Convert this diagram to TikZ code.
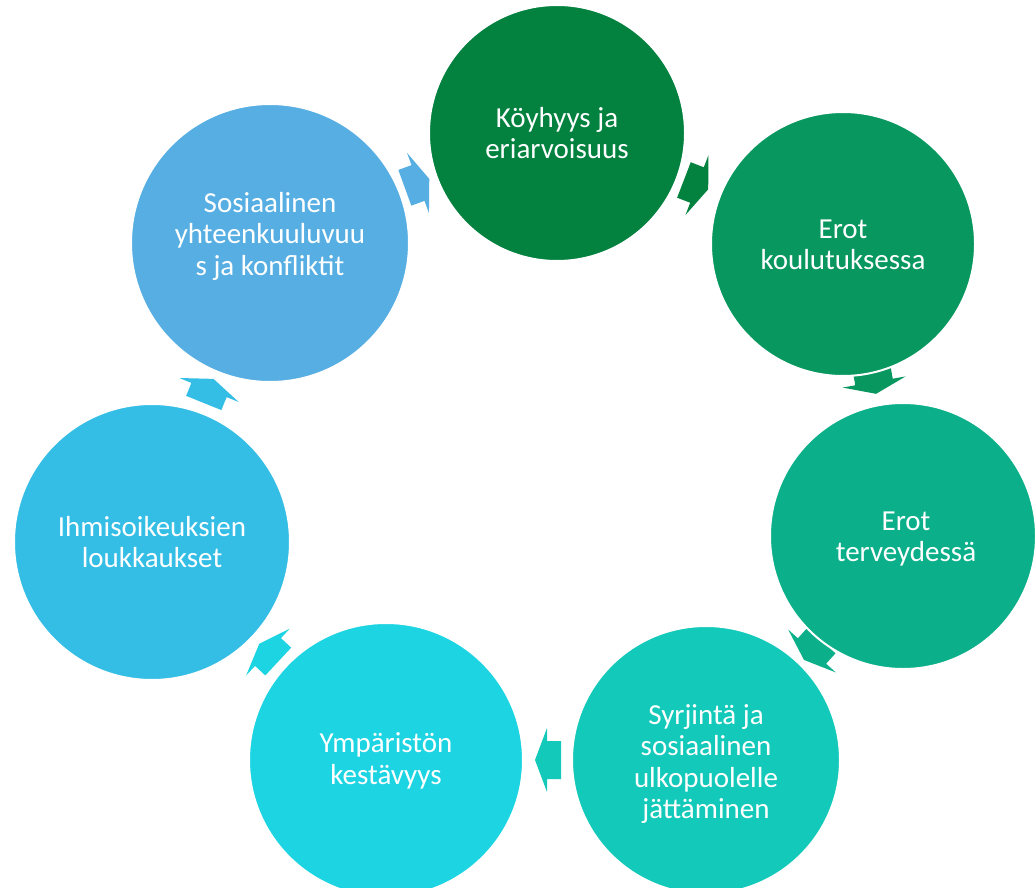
\documentclass[tikz,border=0pt]{standalone}
\usepackage{fontspec}
\setmainfont{Carlito}
\definecolor{cA}{HTML}{02813F}
\definecolor{cB}{HTML}{07975F}
\definecolor{cC}{HTML}{0BB08A}
\definecolor{cD}{HTML}{13C9B9}
\definecolor{cE}{HTML}{1CD4E2}
\definecolor{cF}{HTML}{34BEE5}
\definecolor{cG}{HTML}{56AEE2}
\newcommand{\cyclearrow}[4]{%
  \fill[#1, shift={(#2,#3)}, rotate=#4]
    (-14,-19) -- (0,-19) -- (0,-32) -- (12,0) -- (0,32) -- (0,19) -- (-14,19) -- cycle;}
\begin{document}
\begin{tikzpicture}[x=1pt,y=-1pt,
  bubble/.style={circle, draw=white, line width=2pt, inner sep=0pt},
  label text/.style={text=white, align=center, inner sep=0pt,
    font=\fontsize{29pt}{31.5pt}\selectfont}]
\useasboundingbox (0,0) rectangle (1036,888);
\fill[white] (0,0) rectangle (1036,888);
% arrows
\cyclearrow{cG}{418}{183}{20}
\cyclearrow{cA}{697}{185}{-21}
\cyclearrow{cB}{874}{382}{-80}
\cyclearrow{cC}{812}{651}{-132}
\cyclearrow{cD}{547}{760}{180}
\cyclearrow{cE}{268}{652}{137}
\cyclearrow{cF}{209}{390}{68}
% circles
\node[bubble, fill=cA, minimum size=256pt] (n1) at (557,133) {};
\node[bubble, fill=cB, minimum size=264pt] (n2) at (843,244) {};
\node[bubble, fill=cC, minimum size=266pt] (n3) at (903,536) {};
\node[bubble, fill=cD, minimum size=268pt] (n4) at (706,760) {};
\node[bubble, fill=cE, minimum size=274pt] (n5) at (386,760) {};
\node[bubble, fill=cF, minimum size=276pt] (n6) at (152,542) {};
\node[bubble, fill=cG, minimum size=278pt] (n7) at (270,243) {};
% texts
\node[label text] (t1) at (n1.center) {Köyhyys ja\\eriarvoisuus};
\node[label text] (t2) at ([yshift=-1pt]n2.center) {Erot\\koulutuksessa};
\node[label text] (t3) at ([xshift=3pt,yshift=-3pt]n3.center) {Erot\\terveydessä};
\node[label text] (t4) at ([yshift=-4pt]n4.center) {Syrjintä ja\\sosiaalinen\\ulkopuolelle\\jättäminen};
\node[label text] (t5) at ([yshift=-1pt]n5.center) {Ympäristön\\kestävyys};
\node[label text] (t6) at (n6.center) {Ihmisoikeuksien\\loukkaukset};
\node[label text] (t7) at ([yshift=7pt]n7.center) {Sosiaalinen\\yhteenkuuluvuu\\s ja konfliktit};
\end{tikzpicture}
\end{document}
